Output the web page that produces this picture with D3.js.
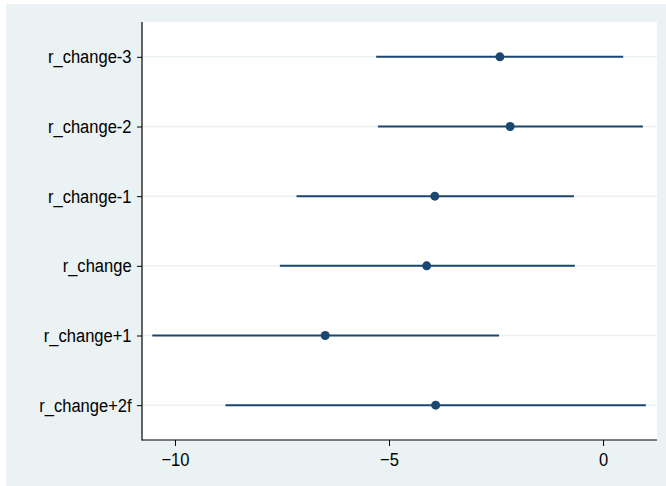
<!DOCTYPE html>
<html>
<head>
<meta charset="utf-8">
<script src="https://cdn.jsdelivr.net/npm/d3@7"></script>
<style>
  body { margin: 0; background: #ffffff; }
  text { font-family: "Liberation Sans", Arial, sans-serif; }
</style>
</head>
<body>
<div id="graph"></div>
<script>
var width = 666, height = 486;
var navy = "#1a476f", pale = "#eaf2f3";

// coefficient estimates and confidence bounds, one per term
var terms = ["r_change-3", "r_change-2", "r_change-1", "r_change", "r_change+1", "r_change+2f"];
var coefs = [-2.41, -2.17, -3.93, -4.12, -6.49, -3.91];
var lower = [-5.30, -5.26, -7.16, -7.55, -10.53, -8.82];
var upper = [0.47, 0.93, -0.68, -0.66, -2.43, 1.00];
var xTicks = [-10, -5, 0];

var rows = terms.map(function(t, i) {
  return { term: t, b: coefs[i], lo: lower[i], hi: upper[i] };
});

var plot = { left: 142, right: 657, top: 22, bottom: 440 };

var svg = d3.select("#graph").append("svg")
    .attr("width", width)
    .attr("height", height);

// outer graph region
svg.append("rect")
    .attr("x", 6).attr("y", 4)
    .attr("width", width - 6).attr("height", height - 4)
    .attr("fill", pale);

svg.append("rect")
    .attr("x", plot.left).attr("y", plot.top)
    .attr("width", plot.right - plot.left).attr("height", plot.bottom - plot.top)
    .attr("fill", "#ffffff");

var x = d3.scaleLinear().domain([-10.77, 1.26]).range([plot.left, plot.right]);
var y = d3.scalePoint().domain(terms).range([plot.top, plot.bottom]).padding(0.5);

// gridlines
svg.append("g").selectAll("line").data(terms).enter().append("line")
    .attr("x1", plot.left).attr("x2", plot.right)
    .attr("y1", function(d) { return y(d); })
    .attr("y2", function(d) { return y(d); })
    .attr("stroke", pale).attr("stroke-width", 1.5);

// axes
var xAxis = svg.append("g")
    .attr("transform", "translate(0," + plot.bottom + ")")
    .call(d3.axisBottom(x).tickValues(xTicks).tickSize(6).tickPadding(7).tickFormat(d3.format("d")));
var yAxis = svg.append("g")
    .attr("transform", "translate(" + plot.left + ",0)")
    .call(d3.axisLeft(y).tickSize(5).tickPadding(7));

[xAxis, yAxis].forEach(function(a) {
  a.select(".domain").remove();
  a.selectAll("line").attr("stroke", "#000").attr("stroke-width", 1);
  // Stata's Arial renders a bit narrower than Liberation Sans
  a.selectAll("text").attr("fill", "#000").style("font-size", "19px")
    .style("font-family", "'Liberation Sans', Arial, sans-serif")
    .attr("transform", "scale(0.87,1)");
});

svg.append("line")
    .attr("x1", plot.left).attr("x2", plot.left)
    .attr("y1", plot.top).attr("y2", plot.bottom + 0.5)
    .attr("stroke", "#000").attr("stroke-width", 1.2);
svg.append("line")
    .attr("x1", plot.left).attr("x2", plot.right)
    .attr("y1", plot.bottom).attr("y2", plot.bottom)
    .attr("stroke", "#000").attr("stroke-width", 1.2);

// confidence intervals
svg.append("g").selectAll("line").data(rows).enter().append("line")
    .attr("x1", function(d) { return x(d.lo); })
    .attr("x2", function(d) { return x(d.hi); })
    .attr("y1", function(d) { return y(d.term); })
    .attr("y2", function(d) { return y(d.term); })
    .attr("stroke", navy).attr("stroke-width", 2);

// point estimates
svg.append("g").selectAll("circle").data(rows).enter().append("circle")
    .attr("cx", function(d) { return x(d.b); })
    .attr("cy", function(d) { return y(d.term); })
    .attr("r", 4.5)
    .attr("fill", navy);
</script>
</body>
</html>
